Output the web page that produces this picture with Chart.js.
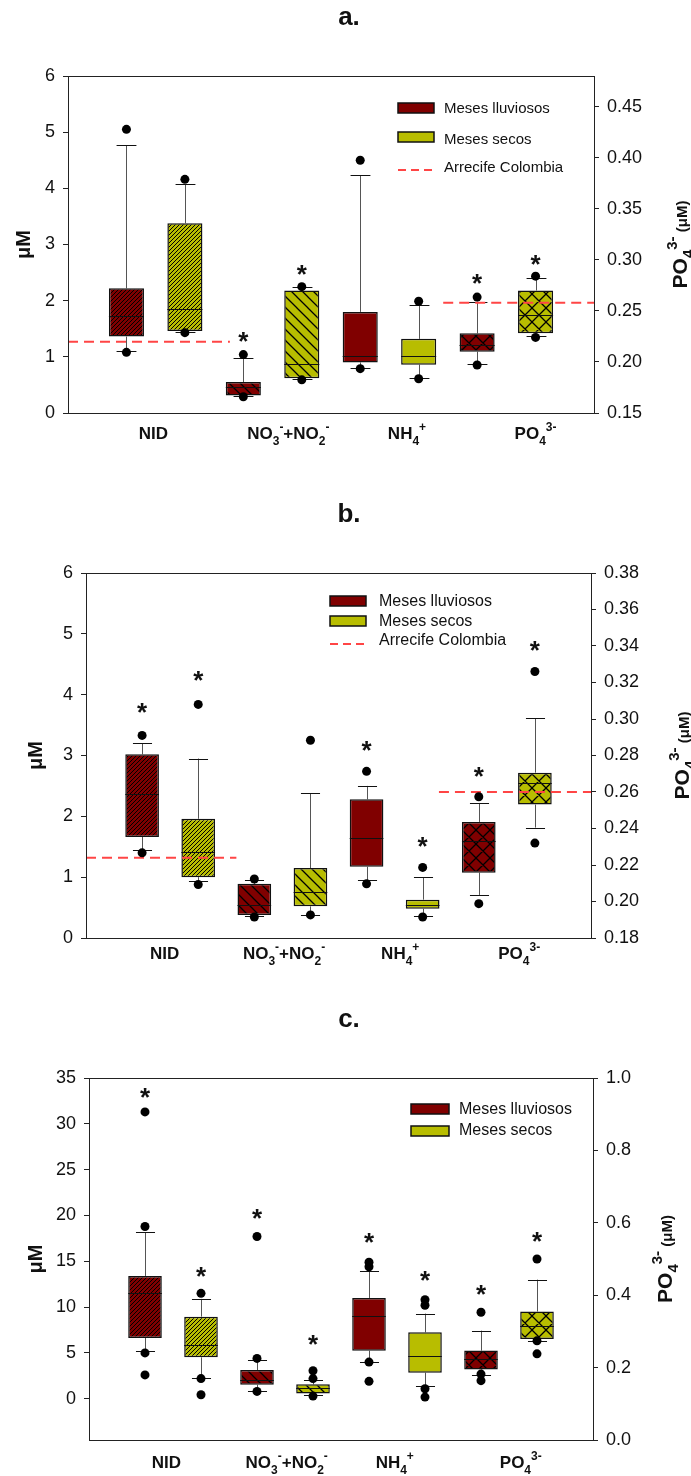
<!DOCTYPE html>
<html>
<head>
<meta charset="utf-8">
<script src="https://cdn.jsdelivr.net/npm/chart.js@4.4.0/dist/chart.umd.min.js"></script>
<style>
  body { margin: 0; background: #fff; }
  canvas { display: block; }
</style>
</head>
<body>
<canvas id="chartA" width="691" height="480"></canvas>
<canvas id="chartB" width="691" height="500"></canvas>
<canvas id="chartC" width="691" height="496"></canvas>
<script>
// ---- data: each row is [lower whisker, Q1, median, Q3, upper whisker]
// categories: NID, NO3+NO2, NH4, PO4 (PO4 is read on the right axis)
const categories = ['NID', 'NO3+NO2', 'NH4', 'PO4'];

const aRain = [[1.11, 1.36, 1.73, 2.22, 4.77], [0.30, 0.31, 0.47, 0.55, 0.98], [0.80, 0.90, 1.02, 1.80, 4.23], [0.198, 0.210, 0.2165, 0.228, 0.259]];
const aDry = [[1.45, 1.46, 1.85, 3.38, 4.07], [0.60, 0.62, 0.88, 2.18, 2.24], [0.63, 0.86, 1.01, 1.32, 1.92], [0.225, 0.228, 0.246, 0.270, 0.282]];
const aRainOut = [[5.05, 1.08], [1.04, 0.29], [4.50, 0.79], [0.2635, 0.197]];
const aDryOut = [[4.16, 1.43], [2.25, 0.59], [1.99, 0.61], [0.284, 0.224]];
const aRainStar = [null, 1.35, null, 0.281];
const aDryStar = [null, 2.55, null, 0.300];
const aRef = [1.27, 0.258];
const aLeftTicks = [0, 1, 2, 3, 4, 5, 6];
const aRightTicks = [0.15, 0.20, 0.25, 0.30, 0.35, 0.40, 0.45];

const bRain = [[1.45, 1.66, 2.37, 3.02, 3.20], [0.36, 0.38, 0.54, 0.89, 0.96], [0.95, 1.17, 1.64, 2.28, 2.50], [0.2036, 0.2158, 0.2333, 0.2436, 0.254]];
const bDry = [[0.93, 1.00, 1.41, 1.96, 2.95], [0.38, 0.52, 0.76, 1.15, 2.38], [0.36, 0.48, 0.54, 0.63, 1.00], [0.2405, 0.2531, 0.2648, 0.2706, 0.3004]];
const bRainOut = [[3.33, 1.40], [0.97, 0.345], [2.74, 0.89], [0.2574, 0.1988]];
const bDryOut = [[3.84, 0.88], [3.25, 0.38], [1.16, 0.345], [0.326, 0.232]];
const bRainStar = [3.78, null, 3.15, 0.271];
const bDryStar = [4.30, null, 1.57, 0.340];
const bRef = [1.32, 0.26];
const bLeftTicks = [0, 1, 2, 3, 4, 5, 6];
const bRightTicks = [0.18, 0.20, 0.22, 0.24, 0.26, 0.28, 0.30, 0.32, 0.34, 0.36, 0.38];

const cRain = [[5.2, 6.63, 11.58, 13.4, 18.17], [0.84, 1.53, 2.0, 3.13, 4.19], [4.04, 5.24, 9.07, 11.0, 13.9], [0.179, 0.195, 0.224, 0.247, 0.302]];
const cDry = [[2.3, 4.52, 5.83, 8.96, 10.9], [0.36, 0.58, 1.17, 1.57, 2.04], [1.38, 2.84, 4.62, 7.25, 9.29], [0.274, 0.279, 0.314, 0.355, 0.443]];
const cRainOut = [[31.3, 18.8, 5.0, 2.6], [17.7, 4.4, 0.8], [14.9, 14.4, 4.0, 1.9], [0.353, 0.182, 0.164]];
const cDryOut = [[11.5, 2.2, 0.44], [3.06, 2.2, 0.29], [10.8, 10.2, 1.09, 0.18], [0.50, 0.274, 0.238]];
const cRainStar = [33.4, 20.2, 17.5, 0.415];
const cDryStar = [13.8, 6.4, 13.4, 0.56];
const cLeftTicks = [0, 5, 10, 15, 20, 25, 30, 35];
const cRightTicks = [0, 0.2, 0.4, 0.6, 0.8, 1.0];

// ---- style
const FONT = '"Liberation Sans", Arial, sans-serif';
Chart.defaults.font.family = FONT;
Chart.defaults.color = '#111';
const RAIN = '#800000';
const DRY = '#b8bd00';
const REF = '#ff4545';
const hatchKinds = ['dense', 'sparse', 'none', 'cross'];

function hatch(color, kind) {
    if (kind === 'none') return color;
    const s = kind === 'dense' ? 4 : kind === 'sparse' ? 11 : 14;
    const c = document.createElement('canvas');
    c.width = s; c.height = s;
    const g = c.getContext('2d');
    g.fillStyle = color;
    g.fillRect(0, 0, s, s);
    g.strokeStyle = '#000';
    g.lineWidth = kind === 'dense' ? 1 : 1.3;
    g.beginPath();
    if (kind !== 'sparse') { // "/"
        g.moveTo(-1, s + 1); g.lineTo(s + 1, -1);
        g.moveTo(-1, 1); g.lineTo(1, -1);
        g.moveTo(s - 1, s + 1); g.lineTo(s + 1, s - 1);
    }
    if (kind !== 'dense') { // "\"
        g.moveTo(-1, -1); g.lineTo(s + 1, s + 1);
        g.moveTo(s - 1, -1); g.lineTo(s + 1, 1);
        g.moveTo(-1, s - 1); g.lineTo(1, s + 1);
    }
    g.stroke();
    return g.createPattern(c, 'repeat');
}

// text with sub/superscripts: parts = [text, mode(0 normal,1 sub,2 sup), size]
function rich(ctx, parts, cx, cy, base) {
    const font = s => `bold ${s}px ${FONT}`;
    let w = 0;
    parts.forEach(([t, m, s]) => { ctx.font = font(s); w += ctx.measureText(t).width; });
    let x = cx - w / 2;
    const y = cy + base * 0.36;
    ctx.textAlign = 'left';
    ctx.textBaseline = 'alphabetic';
    parts.forEach(([t, m, s]) => {
        ctx.font = font(s);
        const dy = m === 1 ? base * 0.32 : m === 2 ? -base * 0.45 : 0;
        ctx.fillText(t, x, y + dy);
        x += ctx.measureText(t).width;
    });
}

const xLabelParts = [
    [['NID', 0, 17]],
    [['NO', 0, 17], ['3', 1, 12], ['-', 2, 12], ['+NO', 0, 17], ['2', 1, 12], ['-', 2, 12]],
    [['NH', 0, 17], ['4', 1, 12], ['+', 2, 12]],
    [['PO', 0, 17], ['4', 1, 12], ['3-', 2, 12]]
];
const rightTitleParts = [['PO', 0, 21], ['4', 1, 15], ['3-', 2, 15], [' (\u03bcM)', 0, 15]];

function boxPlugin(p) {
    const scaleFor = (chart, i) => i < 3 ? chart.scales.y : chart.scales.y2;
    return {
        id: 'boxes',
        beforeDatasetsDraw(chart) {
            const { ctx } = chart;
            const x = chart.scales.x;
            ctx.save();
            ctx.lineWidth = 1;
            for (let i = 0; i < 4; i++) {
                const ys = scaleFor(chart, i);
                [[p.rain, 2 * i + 1], [p.dry, 2 * i + 2]].forEach(([rows, pos]) => {
                    const r = rows[i];
                    const cx = Math.round(x.getPixelForValue(pos)) + 0.5;
                    ctx.strokeStyle = '#555';
                    ctx.beginPath();
                    ctx.moveTo(cx, ys.getPixelForValue(r[3]));
                    ctx.lineTo(cx, ys.getPixelForValue(r[4]));
                    ctx.moveTo(cx, ys.getPixelForValue(r[1]));
                    ctx.lineTo(cx, ys.getPixelForValue(r[0]));
                    ctx.stroke();
                    const cw = x.getPixelForValue(pos + 0.17) - x.getPixelForValue(pos);
                    ctx.strokeStyle = '#111';
                    ctx.beginPath();
                    [r[0], r[4]].forEach(v => {
                        const yy = Math.round(ys.getPixelForValue(v)) + 0.5;
                        ctx.moveTo(cx - cw, yy);
                        ctx.lineTo(cx + cw, yy);
                    });
                    ctx.stroke();
                });
            }
            ctx.restore();
        },
        afterDatasetsDraw(chart) {
            const { ctx } = chart;
            const x = chart.scales.x;
            ctx.save();
            for (let i = 0; i < 4; i++) {
                const ys = scaleFor(chart, i);
                [[p.rain, p.rainStar, 2 * i + 1], [p.dry, p.dryStar, 2 * i + 2]].forEach(([rows, stars, pos]) => {
                    const hw = x.getPixelForValue(pos + 0.3) - x.getPixelForValue(pos);
                    const cx = x.getPixelForValue(pos);
                    const my = Math.round(ys.getPixelForValue(rows[i][2])) + 0.5;
                    ctx.strokeStyle = '#111';
                    ctx.lineWidth = 1;
                    ctx.beginPath();
                    ctx.moveTo(cx - hw, my);
                    ctx.lineTo(cx + hw, my);
                    ctx.stroke();
                    if (stars[i] != null) {
                        ctx.font = `bold 26px ${FONT}`;
                        ctx.fillStyle = '#111';
                        ctx.textAlign = 'center';
                        ctx.textBaseline = 'alphabetic';
                        const m = ctx.measureText('*');
                        const sy = ys.getPixelForValue(stars[i]);
                        ctx.fillText('*', cx, sy + (m.actualBoundingBoxAscent - m.actualBoundingBoxDescent) / 2);
                    }
                });
            }
            ctx.restore();
        },
        afterDraw(chart) {
            const { ctx, chartArea: a } = chart;
            const x = chart.scales.x;
            ctx.save();
            // frame
            ctx.strokeStyle = '#222';
            ctx.lineWidth = 1;
            ctx.strokeRect(Math.round(a.left) + 0.5, Math.round(a.top) + 0.5, Math.round(a.right - a.left), Math.round(a.bottom - a.top));
            ctx.fillStyle = '#111';
            // title
            ctx.font = `bold 26px ${FONT}`;
            ctx.textAlign = 'center';
            ctx.textBaseline = 'alphabetic';
            ctx.fillText(p.title, 349, p.titleBase);
            // category labels
            p.labelPos.forEach((v, i) => rich(ctx, xLabelParts[i], x.getPixelForValue(v), p.labelY, 17));
            // left axis title
            ctx.save();
            ctx.translate(p.leftTitleX, (a.top + a.bottom) / 2);
            ctx.rotate(-Math.PI / 2);
            ctx.font = `bold 20px ${FONT}`;
            ctx.textAlign = 'center';
            ctx.textBaseline = 'middle';
            ctx.fillText('\u03bcM', 0, 0);
            ctx.restore();
            // right axis title
            ctx.save();
            ctx.translate(p.rightTitleX, (a.top + a.bottom) / 2);
            ctx.rotate(-Math.PI / 2);
            rich(ctx, rightTitleParts, 0, 0, 21);
            ctx.restore();
            // legend
            const L = p.legend;
            const items = [[RAIN, 'Meses lluviosos'], [DRY, 'Meses secos']];
            if (p.ref) items.push([null, 'Arrecife Colombia']);
            items.forEach(([col, label], k) => {
                const cy = L.rows[k];
                if (col) {
                    ctx.fillStyle = col;
                    ctx.fillRect(L.x, cy - 5, L.w, 10);
                    ctx.strokeStyle = '#111';
                    ctx.lineWidth = 1.5;
                    ctx.strokeRect(L.x, cy - 5, L.w, 10);
                } else {
                    ctx.strokeStyle = REF;
                    ctx.lineWidth = 2;
                    ctx.setLineDash([8, 5]);
                    ctx.beginPath();
                    ctx.moveTo(L.x, cy);
                    ctx.lineTo(L.x + L.w, cy);
                    ctx.stroke();
                    ctx.setLineDash([]);
                }
                ctx.fillStyle = '#111';
                ctx.font = `${L.font}px ${FONT}`;
                ctx.textAlign = 'left';
                ctx.textBaseline = 'middle';
                ctx.fillText(label, L.textX, cy + L.textDy[k]);
            });
            ctx.restore();
        }
    };
}

function panel(id, p) {
    const canvas = document.getElementById(id);
    const H = canvas.height;
    const boxes = (rows, idx, off) => idx.map(i => ({ x: 2 * i + off, y: [rows[i][1], rows[i][3]] }));
    const outs = (idx) => {
        const pts = [];
        idx.forEach(i => {
            p.rainOut[i].forEach(v => pts.push({ x: 2 * i + 1, y: v }));
            p.dryOut[i].forEach(v => pts.push({ x: 2 * i + 2, y: v }));
        });
        return pts;
    };
    const left = [0, 1, 2], right = [3];
    const barStyle = { type: 'bar', grouped: false, borderColor: '#111', borderWidth: 1.5, borderSkipped: false, order: 3 };
    const dotStyle = { type: 'scatter', pointRadius: 4.5, backgroundColor: '#000', borderWidth: 0, order: 0 };
    const datasets = [
        { ...dotStyle, data: outs(left), yAxisID: 'y' },
        { ...dotStyle, data: outs(right), yAxisID: 'y2' },
        { ...barStyle, data: boxes(p.rain, left, 1), backgroundColor: left.map(i => hatch(RAIN, hatchKinds[i])), yAxisID: 'y' },
        { ...barStyle, data: boxes(p.dry, left, 2), backgroundColor: left.map(i => hatch(DRY, hatchKinds[i])), yAxisID: 'y' },
        { ...barStyle, data: boxes(p.rain, right, 1), backgroundColor: right.map(i => hatch(RAIN, hatchKinds[i])), yAxisID: 'y2' },
        { ...barStyle, data: boxes(p.dry, right, 2), backgroundColor: right.map(i => hatch(DRY, hatchKinds[i])), yAxisID: 'y2' }
    ];
    if (p.ref) {
        const refStyle = { type: 'line', borderColor: REF, borderWidth: 2, borderDash: [10, 6], pointRadius: 0, order: 1 };
        datasets.push({ ...refStyle, data: [{ x: p.refSpan[0], y: p.ref[0] }, { x: p.refSpan[1], y: p.ref[0] }], yAxisID: 'y' });
        datasets.push({ ...refStyle, data: [{ x: p.refSpan[2], y: p.ref[1] }, { x: p.refSpan[3], y: p.ref[1] }], yAxisID: 'y2' });
    }
    const yAxis = (pos, min, max, ticks, dec, width) => ({
        type: 'linear', position: pos, min, max,
        afterBuildTicks: s => { s.ticks = ticks.map(v => ({ value: v })); },
        afterFit: s => { s.width = width; },
        ticks: { font: { size: 18 }, color: '#111', padding: 8, callback: v => dec == null ? v : Number(v).toFixed(dec) },
        grid: { drawOnChartArea: false, tickLength: 5, color: '#222' },
        border: { display: false }
    });
    new Chart(canvas, {
        type: 'bar',
        data: { datasets },
        options: {
            responsive: false,
            devicePixelRatio: 1,
            animation: false,
            layout: { padding: { top: p.area.top, left: 0, right: 0, bottom: 0 } },
            datasets: { bar: { categoryPercentage: 1, barPercentage: 0.6 } },
            plugins: { legend: { display: false }, tooltip: { enabled: false } },
            scales: {
                x: {
                    type: 'linear', min: 0, max: 9, offset: false,
                    ticks: { display: false, stepSize: 1 },
                    grid: { display: false, offset: false },
                    border: { display: false },
                    afterFit: s => { s.height = H - p.area.bottom; }
                },
                y: yAxis('left', p.yMin, p.yMax, p.leftTicks, null, p.area.left),
                y2: yAxis('right', p.y2Min, p.y2Max, p.rightTicks, p.rightDec, 691 - p.area.right)
            }
        },
        plugins: [boxPlugin(p)]
    });
}

panel('chartA', {
    title: 'a.', titleBase: 25,
    rain: aRain, dry: aDry, rainOut: aRainOut, dryOut: aDryOut, rainStar: aRainStar, dryStar: aDryStar,
    ref: aRef, refSpan: [0, 2.77, 6.42, 9],
    yMin: 0, yMax: 6, y2Min: 0.15, y2Max: 0.48, leftTicks: aLeftTicks, rightTicks: aRightTicks, rightDec: 2,
    area: { top: 76, bottom: 413, left: 68, right: 594 },
    labelPos: [1.46, 3.77, 5.8, 8.0], labelY: 433,
    leftTitleX: 24, rightTitleX: 679,
    legend: { x: 398, w: 36, rows: [108, 137, 170], textX: 444, font: 15, textDy: [1, 3, -2] }
});

panel('chartB', {
    title: 'b.', titleBase: 42,
    rain: bRain, dry: bDry, rainOut: bRainOut, dryOut: bDryOut, rainStar: bRainStar, dryStar: bDryStar,
    ref: bRef, refSpan: [0, 2.68, 6.29, 9],
    yMin: 0, yMax: 6, y2Min: 0.18, y2Max: 0.38, leftTicks: bLeftTicks, rightTicks: bRightTicks, rightDec: 2,
    area: { top: 93, bottom: 458, left: 86, right: 591 },
    labelPos: [1.4, 3.53, 5.6, 7.72], labelY: 473,
    leftTitleX: 36, rightTitleX: 681,
    legend: { x: 330, w: 36, rows: [121, 141, 164], textX: 379, font: 16, textDy: [1, 1, -3] }
});

panel('chartC', {
    title: 'c.', titleBase: 47,
    rain: cRain, dry: cDry, rainOut: cRainOut, dryOut: cDryOut, rainStar: cRainStar, dryStar: cDryStar,
    ref: null,
    yMin: -4.5, yMax: 35, y2Min: 0, y2Max: 1, leftTicks: cLeftTicks, rightTicks: cRightTicks, rightDec: 1,
    area: { top: 98, bottom: 460, left: 89, right: 593 },
    labelPos: [1.38, 3.53, 5.46, 7.71], labelY: 482,
    leftTitleX: 36, rightTitleX: 664,
    legend: { x: 411, w: 38, rows: [129, 151], textX: 459, font: 16, textDy: [1, 0] }
});
</script>
</body>
</html>
